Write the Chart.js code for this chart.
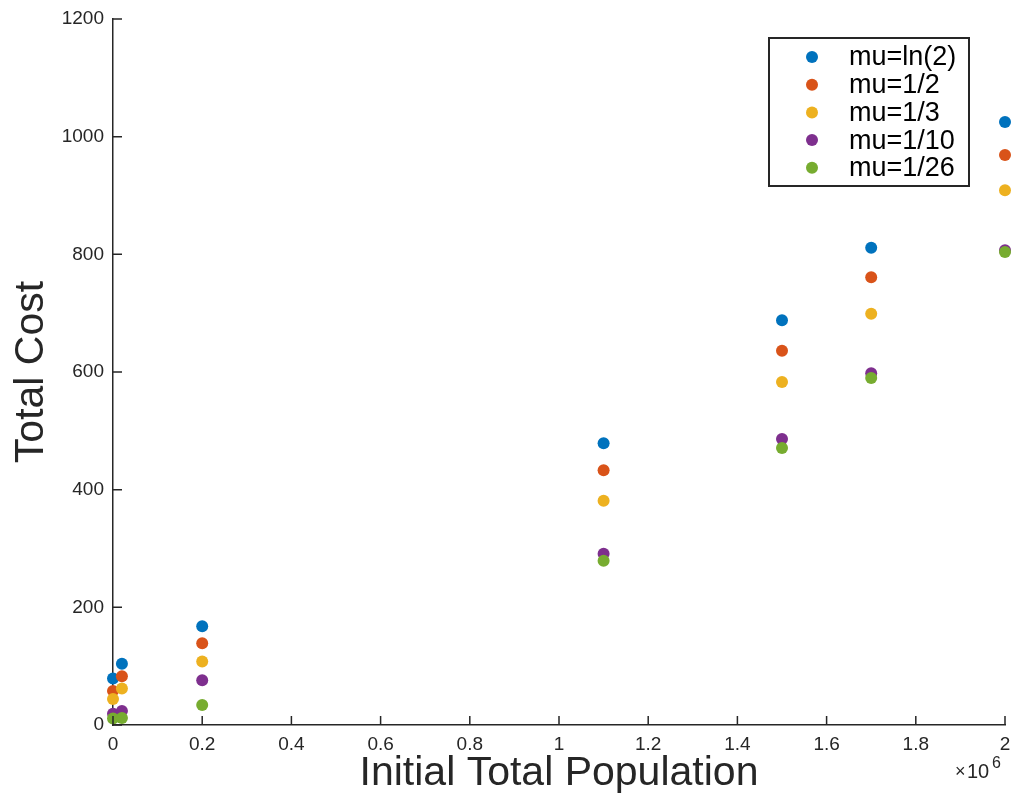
<!DOCTYPE html>
<html>
<head>
<meta charset="utf-8">
<script src="https://cdn.jsdelivr.net/npm/chart.js@4/dist/chart.umd.min.js"></script>
<style>
html,body{margin:0;padding:0;background:#fff;}
#wrap{width:1013px;height:794px;position:relative;}
</style>
</head>
<body>
<div id="wrap"><canvas id="c" width="1013" height="794"></canvas></div>
<script>
const population = [0, 20000, 200000, 1100000, 1500000, 1700000, 2000000];
const seriesNames = ['mu=ln(2)', 'mu=1/2', 'mu=1/3', 'mu=1/10', 'mu=1/26'];
const costLn2  = [79, 104, 168, 479, 688, 811, 1025];
const costHalf = [58, 83, 139, 433, 636, 761, 969];
const costThird= [44, 62, 108, 381, 583, 699, 909];
const costTenth= [19, 24, 76, 291, 486, 598, 807];
const cost26   = [11, 12, 34, 279, 471, 590, 804];
const xTicks = [0, 200000, 400000, 600000, 800000, 1000000, 1200000, 1400000, 1600000, 1800000, 2000000];
const yTicks = [0, 200, 400, 600, 800, 1000, 1200];
const colors = ['#0072BD', '#D95319', '#EDB120', '#7E2F8E', '#77AC30'];
const allSeries = [costLn2, costHalf, costThird, costTenth, cost26];

const FONT = "'Liberation Sans', Arial, Helvetica, sans-serif";
const AXIS = '#262626';

const datasets = allSeries.map((vals, i) => ({
  label: seriesNames[i],
  data: population.map((p, j) => ({x: p, y: vals[j]})),
  backgroundColor: colors[i],
  borderColor: colors[i],
  pointRadius: 6,
  pointHoverRadius: 6,
  borderWidth: 0,
  order: allSeries.length - i,
  clip: false
}));

const innerTicks = {
  id: 'innerTicks',
  afterDraw(chart) {
    const ctx = chart.ctx;
    const xs = chart.scales.x, ys = chart.scales.y;
    const a = chart.chartArea;
    ctx.save();
    ctx.strokeStyle = AXIS;
    ctx.lineWidth = 1.5;
    ctx.beginPath();
    xTicks.forEach(v => {
      const px = xs.getPixelForValue(v);
      ctx.moveTo(px, a.bottom);
      ctx.lineTo(px, a.bottom - 9);
    });
    yTicks.forEach(v => {
      const py = ys.getPixelForValue(v);
      ctx.moveTo(a.left, py);
      ctx.lineTo(a.left + 9, py);
    });
    ctx.stroke();
    // x10^6 exponent label
    ctx.fillStyle = AXIS;
    ctx.textBaseline = 'alphabetic';
    ctx.textAlign = 'left';
    ctx.font = '18px ' + FONT;
    ctx.fillText('\u00d7', 955, 777);
    ctx.font = '20px ' + FONT;
    ctx.fillText('10', 967, 778);
    ctx.font = '16px ' + FONT;
    ctx.fillText('6', 992, 768);
    // legend
    const lx = 769, ly = 38, lw = 200, lh = 148;
    ctx.fillStyle = '#fff';
    ctx.fillRect(lx, ly, lw, lh);
    ctx.strokeStyle = AXIS;
    ctx.lineWidth = 2;
    ctx.strokeRect(lx, ly, lw, lh);
    ctx.font = '27px ' + FONT;
    ctx.textBaseline = 'middle';
    chart.data.datasets.forEach((ds, i) => {
      const cy = 57 + i * 27.7;
      ctx.fillStyle = ds.backgroundColor;
      ctx.beginPath();
      ctx.arc(812, cy, 6, 0, Math.PI * 2);
      ctx.fill();
      ctx.fillStyle = '#000';
      ctx.fillText(ds.label, 849, cy + 1);
    });
    ctx.restore();
  }
};

new Chart(document.getElementById('c'), {
  type: 'scatter',
  data: { datasets },
  options: {
    responsive: false,
    animation: false,
    devicePixelRatio: 1,
    layout: { padding: { top: 19, right: 8, left: 0, bottom: 0 } },
    plugins: { legend: { display: false }, tooltip: { enabled: false } },
    scales: {
      x: {
        type: 'linear', min: 0, max: 2000000,
        afterBuildTicks: s => { s.ticks = xTicks.map(v => ({value: v})); },
        afterFit: s => { s.height = 69; s.paddingLeft = 0; s.paddingRight = 0; },
        grid: { display: false, drawTicks: false },
        border: { display: true, color: AXIS, width: 1.5 },
        ticks: {
          color: AXIS, padding: 8, maxRotation: 0, autoSkip: false,
          font: { family: FONT, size: 19 },
          callback: v => String(Math.round(v / 100000) / 10)
        },
        title: {
          display: true, text: 'Initial Total Population', color: AXIS,
          font: { family: FONT, size: 41, lineHeight: 1 }, padding: { top: 0, bottom: 0 }
        }
      },
      y: {
        type: 'linear', min: 0, max: 1200,
        afterBuildTicks: s => { s.ticks = yTicks.map(v => ({value: v})); },
        afterFit: s => { s.width = 113; s.paddingTop = 0; s.paddingBottom = 0; },
        grid: { display: false, drawTicks: false },
        border: { display: true, color: AXIS, width: 1.5 },
        ticks: {
          color: AXIS, padding: 9, autoSkip: false,
          font: { family: FONT, size: 19 },
          callback: v => String(v)
        },
        title: {
          display: true, text: 'Total Cost', color: AXIS,
          font: { family: FONT, size: 41, lineHeight: 1 }, padding: { top: 11.5, bottom: 0 }
        }
      }
    }
  },
  plugins: [innerTicks]
});
</script>
</body>
</html>
